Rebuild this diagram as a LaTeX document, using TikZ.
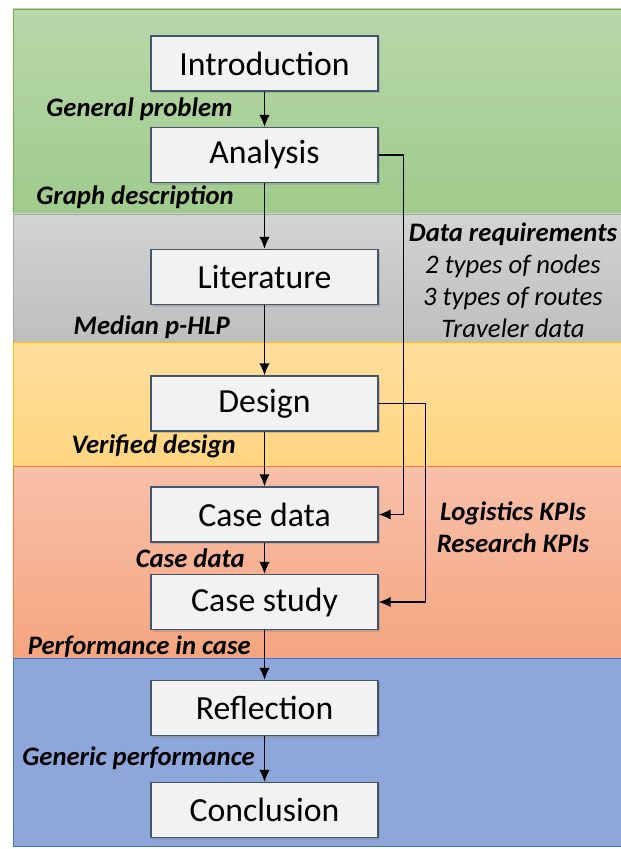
\documentclass[tikz,border=0pt]{standalone}
\usepackage{fontspec}
\setmainfont{Carlito}
\usetikzlibrary{arrows.meta, shadows, positioning, calc}

\definecolor{boxBorder}{HTML}{44546A}
\definecolor{boxFill}{HTML}{F2F2F2}
\definecolor{greenEdge}{HTML}{70AD47}
\definecolor{greenTop}{HTML}{B8D8AA}
\definecolor{greenBot}{HTML}{9FCB8B}
\definecolor{grayEdge}{HTML}{A5A5A5}
\definecolor{grayTop}{HTML}{D3D3D3}
\definecolor{grayBot}{HTML}{BEBEBE}
\definecolor{yellowEdge}{HTML}{FFC000}
\definecolor{yellowTop}{HTML}{FFDE9C}
\definecolor{yellowBot}{HTML}{FFD580}
\definecolor{salmonEdge}{HTML}{ED7D31}
\definecolor{salmonTop}{HTML}{F8C0AA}
\definecolor{salmonBot}{HTML}{F5A57F}
\definecolor{blueEdge}{HTML}{4472C4}
\definecolor{blueFill}{HTML}{8EA7DA}

\tikzstyle{stageNode}=[draw=boxBorder, fill=boxFill, line width=0.9pt, minimum width=5.675cm, minimum height=1.375cm, inner sep=0pt, font=\fontsize{24}{28}\selectfont, drop shadow={opacity=0.35, shadow xshift=1.6pt, shadow yshift=-1.6pt}]
\tikzstyle{flowArrow}=[line width=1.15pt, -{Latex[length=3mm,width=2.6mm]}]
\tikzstyle{flowLabel}=[inner sep=0pt, anchor=east, font=\fontsize{19}{22}\selectfont\bfseries\itshape]
\tikzstyle{noteNode}=[inner sep=0pt, align=center, font=\fontsize{19}{22.8}\selectfont\itshape]
\tikzstyle{bandRect}=[line width=0.7pt]

\begin{document}
\begin{tikzpicture}
    \useasboundingbox (0,0) rectangle (15.5,-21.225);

    % Phase bands
    \draw[bandRect, draw=greenEdge, top color=greenTop, bottom color=greenBot] (0.325,-0.225) rectangle (15.8,-5.35);
    \draw[bandRect, draw=grayEdge, top color=grayTop, bottom color=grayBot] (0.325,-5.35) rectangle (15.8,-8.55);
    \draw[bandRect, draw=yellowEdge, top color=yellowTop, bottom color=yellowBot] (0.325,-8.55) rectangle (15.8,-11.65);
    \draw[bandRect, draw=salmonEdge, top color=salmonTop, bottom color=salmonBot] (0.325,-11.65) rectangle (15.8,-16.45);
    \draw[bandRect, draw=blueEdge, fill=blueFill] (0.325,-16.45) rectangle (15.8,-21.15);

    % Stage Nodes
    \node[stageNode] (intro) at (6.6125, -1.5875) {Introduction};
    \node[stageNode] (analysis) at (6.6125, -3.875) {Analysis};
    \node[stageNode] (literature) at (6.6125, -6.925) {Literature};
    \node[stageNode] (design) at (6.6125, -10.0875) {Design};
    \node[stageNode] (casedata) at (6.6125, -12.8625) {Case data};
    \node[stageNode] (casestudy) at (6.6125, -15.05) {Case study};
    \node[stageNode] (reflection) at (6.6125, -17.7) {Reflection};
    \node[stageNode] (conclusion) at (6.6125, -20.25) {Conclusion};

    % Main flow
    \draw[flowArrow] (intro) -- (analysis);
    \draw[flowArrow] (analysis) -- (literature);
    \draw[flowArrow] (literature) -- (design);
    \draw[flowArrow] (design) -- (casedata);
    \draw[flowArrow] (casedata) -- (casestudy);
    \draw[flowArrow] (casestudy) -- (reflection);
    \draw[flowArrow] (reflection) -- (conclusion);

    % Side flows
    \draw[flowArrow] (analysis.east) -- ++(0.625,0) |- (casedata.east);
    \draw[flowArrow] (design.east) -- ++(1.175,0) |- (casestudy.east);

    % Flow labels
    \node[flowLabel] (lblProblem) at (5.825, -2.74) {General problem};
    \node[flowLabel] (lblGraph) at (5.85, -4.94) {Graph description};
    \node[flowLabel] (lblMedian) at (5.75, -8.19) {Median p-HLP};
    \node[flowLabel] (lblVerified) at (5.9, -11.165) {Verified design};
    \node[flowLabel] (lblCase) at (6.125, -13.965) {Case data};
    \node[flowLabel] (lblPerf) at (6.275, -16.165) {Performance in case};
    \node[flowLabel] (lblGeneric) at (6.375, -18.965) {Generic performance};

    % Side notes
    \node[noteNode] (dataReq) at (12.825, -7.0) {{\bfseries Data requirements}\\2 types of nodes\\3 types of routes\\Traveler data};
    \node[noteNode, font=\fontsize{19}{22.8}\selectfont\bfseries\itshape] (kpis) at (12.825, -13.17) {Logistics KPIs\\Research KPIs};

\end{tikzpicture}
\end{document}
